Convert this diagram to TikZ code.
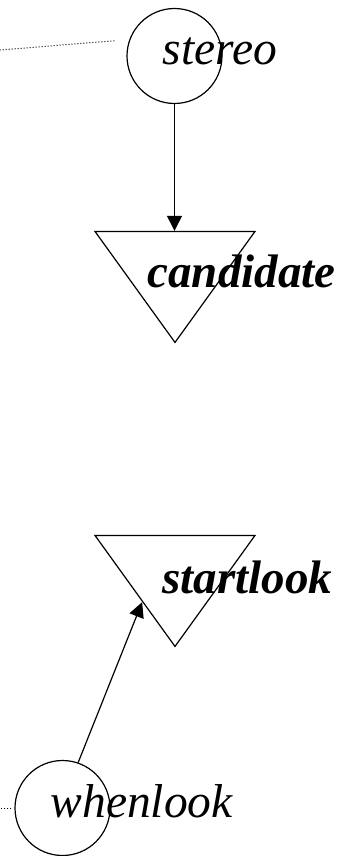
\documentclass[tikz,border=0pt]{standalone}
\usepackage{fontspec}
\setmainfont{Liberation Serif}
\usetikzlibrary{arrows.meta,positioning,shapes.geometric,calc}

\begin{document}
\begin{tikzpicture}[x=1pt,y=-1pt,line width=1.2pt,
  state/.style={draw,circle,minimum size=95pt,inner sep=0pt},
  choice/.style={draw,isosceles triangle,isosceles triangle stretches,
    shape border rotate=270,minimum width=160pt,minimum height=111pt,inner sep=0pt},
  lbl/.style={anchor=base west,inner sep=0pt,font=\fontsize{47.5}{50}\selectfont\itshape},
  blbl/.style={anchor=base west,inner sep=0pt,font=\fontsize{47}{50}\selectfont\bfseries\itshape},
  link/.style={dotted,line width=1pt},
  flow/.style={-{Triangle[length=15pt,width=15pt]}}]
\useasboundingbox (0,0) rectangle (341,856);
% states and choices
\node[state] (stereo) at (174.5,56) {};
\node[lbl] (stereoLbl) at (162,65) {stereo};
\node[choice,anchor=apex] (candidate) at (175,344) {};
\node[blbl] (candidateLbl) at (147,287) {candidate};
\node[choice,anchor=apex] (startlook) at (175,648) {};
\node[blbl] (startlookLbl) at (162,593) {startlook};
\node[state] (whenlook) at (62.5,808) {};
\node[lbl] (whenlookLbl) at (50,817) {whenlook};
% free ends
\coordinate (stereoIn) at (0,50);
\coordinate (whenlookIn) at (0,808);
% connectors
\draw[link,shorten <=15pt] (stereo.160) -- (stereoIn);
\draw[link,shorten <=3pt] (whenlook.west) -- (whenlookIn);
\draw[flow] (stereo.south) -- (stereo.south |- candidate.left corner);
\draw[flow] (whenlook.71) -- ($(startlook.apex)!0.405!(startlook.right corner)$);
\end{tikzpicture}
\end{document}
